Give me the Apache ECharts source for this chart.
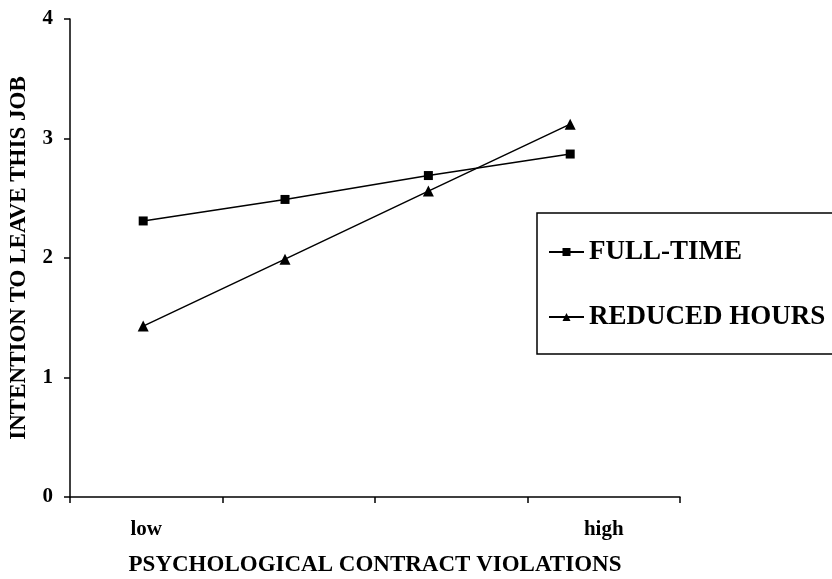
<!DOCTYPE html>
<html>
<head>
<meta charset="utf-8">
<script src="https://cdn.jsdelivr.net/npm/echarts@6/dist/echarts.min.js"></script>
<style>html,body{margin:0;padding:0;background:#fff;}#c{width:832px;height:579px;}</style>
</head>
<body>
<div id="c"></div>
<script>
// Data
const categories = ['low', '', '', 'high'];
const xPositions = [0.48, 1.41, 2.35, 3.28];
const fullTime = [2.31, 2.49, 2.69, 2.87];
const reducedHours = [1.43, 1.99, 2.56, 3.12];
const yTicks = [0, 1, 2, 3, 4];

const FONT = '"Liberation Serif", "Times New Roman", serif';
const chart = echarts.init(document.getElementById('c'), null, {renderer: 'canvas'});
const pair = (xs, ys) => xs.map((x, i) => [x, ys[i]]);

chart.setOption({
  backgroundColor: '#fff',
  animation: false,
  grid: {left: 70, right: 152, top: 19, bottom: 82, containLabel: false, outerBoundsMode: 'none'},
  xAxis: [{
    type: 'category',
    data: categories,
    boundaryGap: true,
    name: 'PSYCHOLOGICAL CONTRACT VIOLATIONS',
    nameLocation: 'middle',
    nameGap: 57,
    nameTextStyle: {fontFamily: FONT, fontWeight: 'bold', fontSize: 23, color: '#000'},
    axisLine: {lineStyle: {color: '#000', width: 1.5}},
    axisTick: {show: true, alignWithLabel: false, length: 6, lineStyle: {color: '#000', width: 1.5}},
    axisLabel: {fontFamily: FONT, fontWeight: 'bold', fontSize: 21, color: '#000', margin: 22, interval: 0},
    splitLine: {show: false}
  }, {
    type: 'value',
    min: 0, max: 4, interval: 1,
    show: false,
    position: 'bottom'
  }],
  yAxis: {
    type: 'value',
    min: yTicks[0], max: yTicks[yTicks.length - 1], interval: 1,
    name: 'INTENTION TO LEAVE THIS JOB',
    nameLocation: 'middle',
    nameRotate: 90,
    nameGap: 39,
    nameTextStyle: {fontFamily: FONT, fontWeight: 'bold', fontSize: 23, color: '#000'},
    axisLine: {show: true, lineStyle: {color: '#000', width: 1.5}},
    axisTick: {show: true, length: 6, lineStyle: {color: '#000', width: 1.5}},
    axisLabel: {fontFamily: FONT, fontWeight: 'bold', fontSize: 21, color: '#000', margin: 17},
    splitLine: {show: false}
  },
  legend: {
    orient: 'vertical',
    left: 537,
    top: 213,
    backgroundColor: '#fff',
    borderColor: '#000',
    borderWidth: 1.5,
    borderRadius: 0,
    padding: [25, 40, 23, 11],
    itemGap: 37,
    itemWidth: 35,
    itemHeight: 10,
    textStyle: {fontFamily: FONT, fontWeight: 'bold', fontSize: 27, color: '#000', lineHeight: 28},
    data: ['FULL-TIME', 'REDUCED HOURS']
  },
  series: [{
    name: 'FULL-TIME',
    type: 'line',
    xAxisIndex: 1,
    data: pair(xPositions, fullTime),
    symbol: 'rect',
    symbolSize: 9,
    itemStyle: {color: '#000'},
    lineStyle: {color: '#000', width: 1.5}
  }, {
    name: 'REDUCED HOURS',
    type: 'line',
    xAxisIndex: 1,
    data: pair(xPositions, reducedHours),
    symbol: 'triangle',
    symbolSize: 11,
    itemStyle: {color: '#000'},
    lineStyle: {color: '#000', width: 1.5}
  }]
});
</script>
</body>
</html>
